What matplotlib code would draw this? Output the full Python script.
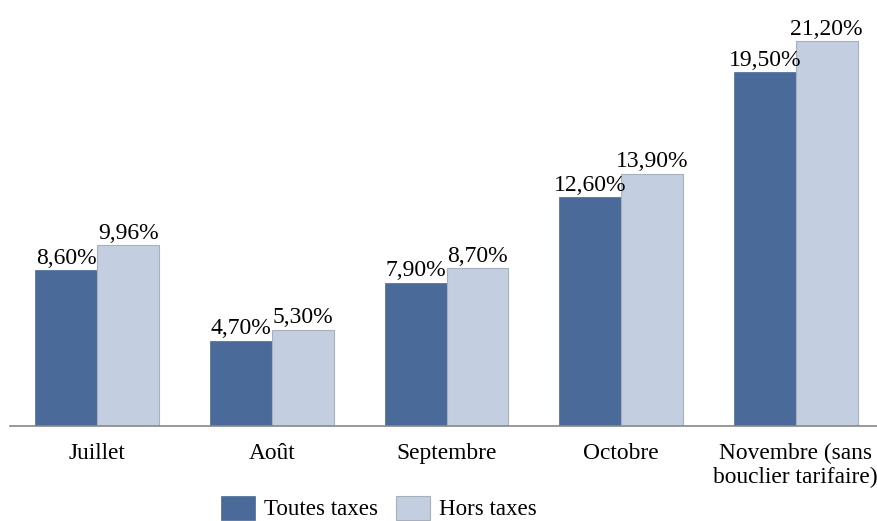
import numpy as np
import matplotlib.pyplot as plt

plt.rcParams['font.family'] = ['Liberation Serif', 'DejaVu Serif']

# données
mois = ['Juillet', 'Août', 'Septembre', 'Octobre', 'Novembre (sans\nbouclier tarifaire)']
ttc = [8.60, 4.70, 7.90, 12.60, 19.50]
ht = [9.96, 5.30, 8.70, 13.90, 21.20]
noms = ['Toutes taxes', 'Hors taxes']

fig = plt.figure(figsize=(8.77, 5.21), dpi=100)
ax = fig.add_axes([10/877, 95/521, 873/877, 426/521])

x = np.arange(len(mois))
w = 0.355
b1 = ax.bar(x - w/2, ttc, w, color='#4A6A99', edgecolor='#4A6A99', linewidth=0.5, label=noms[0])
b2 = ax.bar(x + w/2, ht, w, color='#C3CEE0', edgecolor='#A8B0BC', linewidth=0.8, label=noms[1])

for bars, vals in [(b1, ttc), (b2, ht)]:
    for r, v in zip(bars, vals):
        ax.annotate(('%.2f%%' % v).replace('.', ','),
                    xy=(r.get_x() + r.get_width()/2, v),
                    xytext=(0, 1), textcoords='offset points',
                    ha='center', va='bottom', fontsize=17)

ax.set_xlim(-0.5, 4.5)
ax.set_ylim(0, 23.47)
ax.set_xticks(x)
ax.set_xticklabels(mois, fontsize=16.8, va='top', linespacing=1.2)
ax.tick_params(axis='x', length=0, pad=12)
ax.set_yticks([])
for s in ['top', 'right', 'left']:
    ax.spines[s].set_visible(False)
ax.spines['bottom'].set_color('#888888')
ax.spines['bottom'].set_linewidth(1.2)

fig.legend(handles=[b1, b2], loc='lower center', bbox_to_anchor=(379/877, -0.03),
           ncol=2, frameon=False, fontsize=16.6, handlelength=1.45, handleheight=1.2,
           handletextpad=0.4, columnspacing=0.8, borderpad=0.2)

fig.savefig('out.png', dpi=100)
